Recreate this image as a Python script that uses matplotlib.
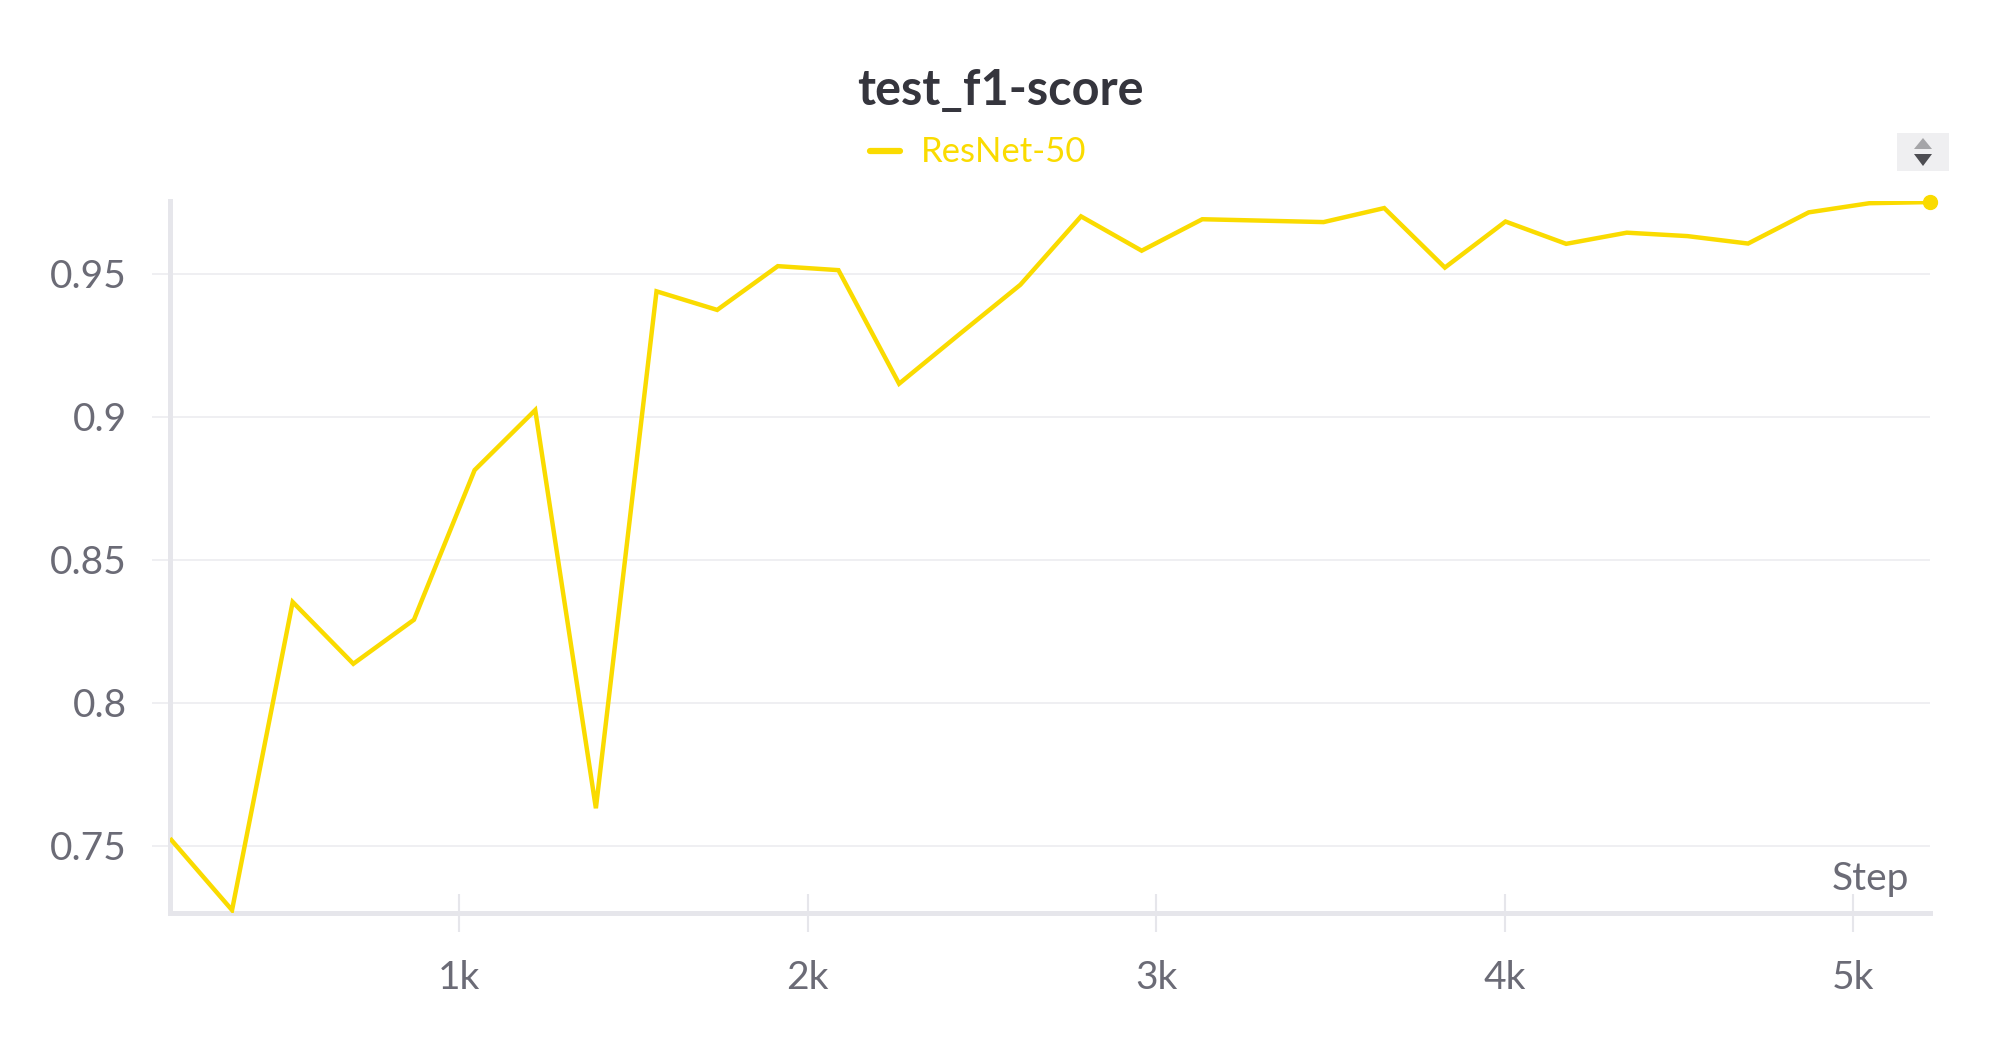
import matplotlib.pyplot as plt
from matplotlib.lines import Line2D
from matplotlib.patches import Rectangle, Polygon

steps = [174, 348, 522, 696, 870, 1044, 1218, 1392, 1566, 1740, 1914, 2088,
         2262, 2436, 2610, 2784, 2958, 3132, 3306, 3480, 3654, 3828, 4002,
         4176, 4350, 4524, 4698, 4872, 5046, 5220]
f1_score = [0.752, 0.7275, 0.8352, 0.8136, 0.829, 0.8813, 0.9023, 0.7631,
            0.9438, 0.9373, 0.9526, 0.9512, 0.9115, 0.9289, 0.9461, 0.970,
            0.958, 0.969, 0.9685, 0.968, 0.9729, 0.9521, 0.9682, 0.9604,
            0.9643, 0.9631, 0.9605, 0.9714, 0.9746, 0.975]
run_name = "ResNet-50"

x_ticks = [1000, 2000, 3000, 4000, 5000]
x_tick_labels = ["1k", "2k", "3k", "4k", "5k"]
y_ticks = [0.75, 0.8, 0.85, 0.9, 0.95]
y_tick_labels = ["0.75", "0.8", "0.85", "0.9", "0.95"]

yellow = "#FADB00"
grey_txt = "#6b6b76"
light = "#e6e6eb"

plt.rcParams['font.family'] = ['Lato', 'DejaVu Sans']

fig = plt.figure(figsize=(20, 10.5), dpi=100)
ax = fig.add_axes([0.085, 0.1305, 0.88, 0.6776])

ax.plot(steps, f1_score, color=yellow, linewidth=3.2, solid_joinstyle='miter', zorder=3)
ax.plot(steps[-1], f1_score[-1], 'o', color=yellow, markersize=10, clip_on=False, zorder=4)

ax.set_xlim(170, 5220)
ax.set_ylim(0.7265, 0.9752)
ax.set_xticks(x_ticks)
ax.set_xticklabels(x_tick_labels)
ax.set_yticks(y_ticks)
ax.set_yticklabels(y_tick_labels)

ax.grid(axis='y', color='#ececf0', linewidth=1.2)
ax.set_axisbelow(True)
for s in ['top', 'right']:
    ax.spines[s].set_visible(False)
for s in ['left', 'bottom']:
    ax.spines[s].set_color(light)
    ax.spines[s].set_linewidth(3.6)

ax.tick_params(axis='x', direction='inout', length=27, width=1.5, color=light,
               labelsize=28, labelcolor=grey_txt, pad=20)
ax.tick_params(axis='y', direction='out', length=13, width=1.2, color='#ececf0',
               labelsize=28, labelcolor=grey_txt, pad=18)

ax.text(0.988, 0.048, "Step", transform=ax.transAxes, ha='right', va='center',
        fontsize=28, color=grey_txt)

fig.text(0.5, 0.914, "test_f1-score", ha='center', va='center', fontsize=35,
         fontweight='bold', color='#35353d')

# legend entry
fig.add_artist(Line2D([0.435, 0.45], [0.856, 0.856], transform=fig.transFigure,
                      color=yellow, linewidth=4.5, solid_capstyle='round'))
fig.text(0.4605, 0.855, run_name, ha='left', va='center', fontsize=25, color=yellow)

# sort toggle in the corner (figure pixel coords -> fraction)
W, H = 2000, 1050
fig.add_artist(Rectangle((1897 / W, 1 - 171 / H), 52 / W, 38 / H, transform=fig.transFigure,
                         facecolor='#efeff1', edgecolor='none'))
fig.add_artist(Polygon([(1914 / W, 1 - 149 / H), (1932 / W, 1 - 149 / H), (1923 / W, 1 - 138 / H)],
                       closed=True, transform=fig.transFigure, facecolor='#a5a5a8', edgecolor='none'))
fig.add_artist(Polygon([(1914 / W, 1 - 154 / H), (1932 / W, 1 - 154 / H), (1923 / W, 1 - 166 / H)],
                       closed=True, transform=fig.transFigure, facecolor='#4d4d52', edgecolor='none'))

plt.savefig("out.png", dpi=100)
